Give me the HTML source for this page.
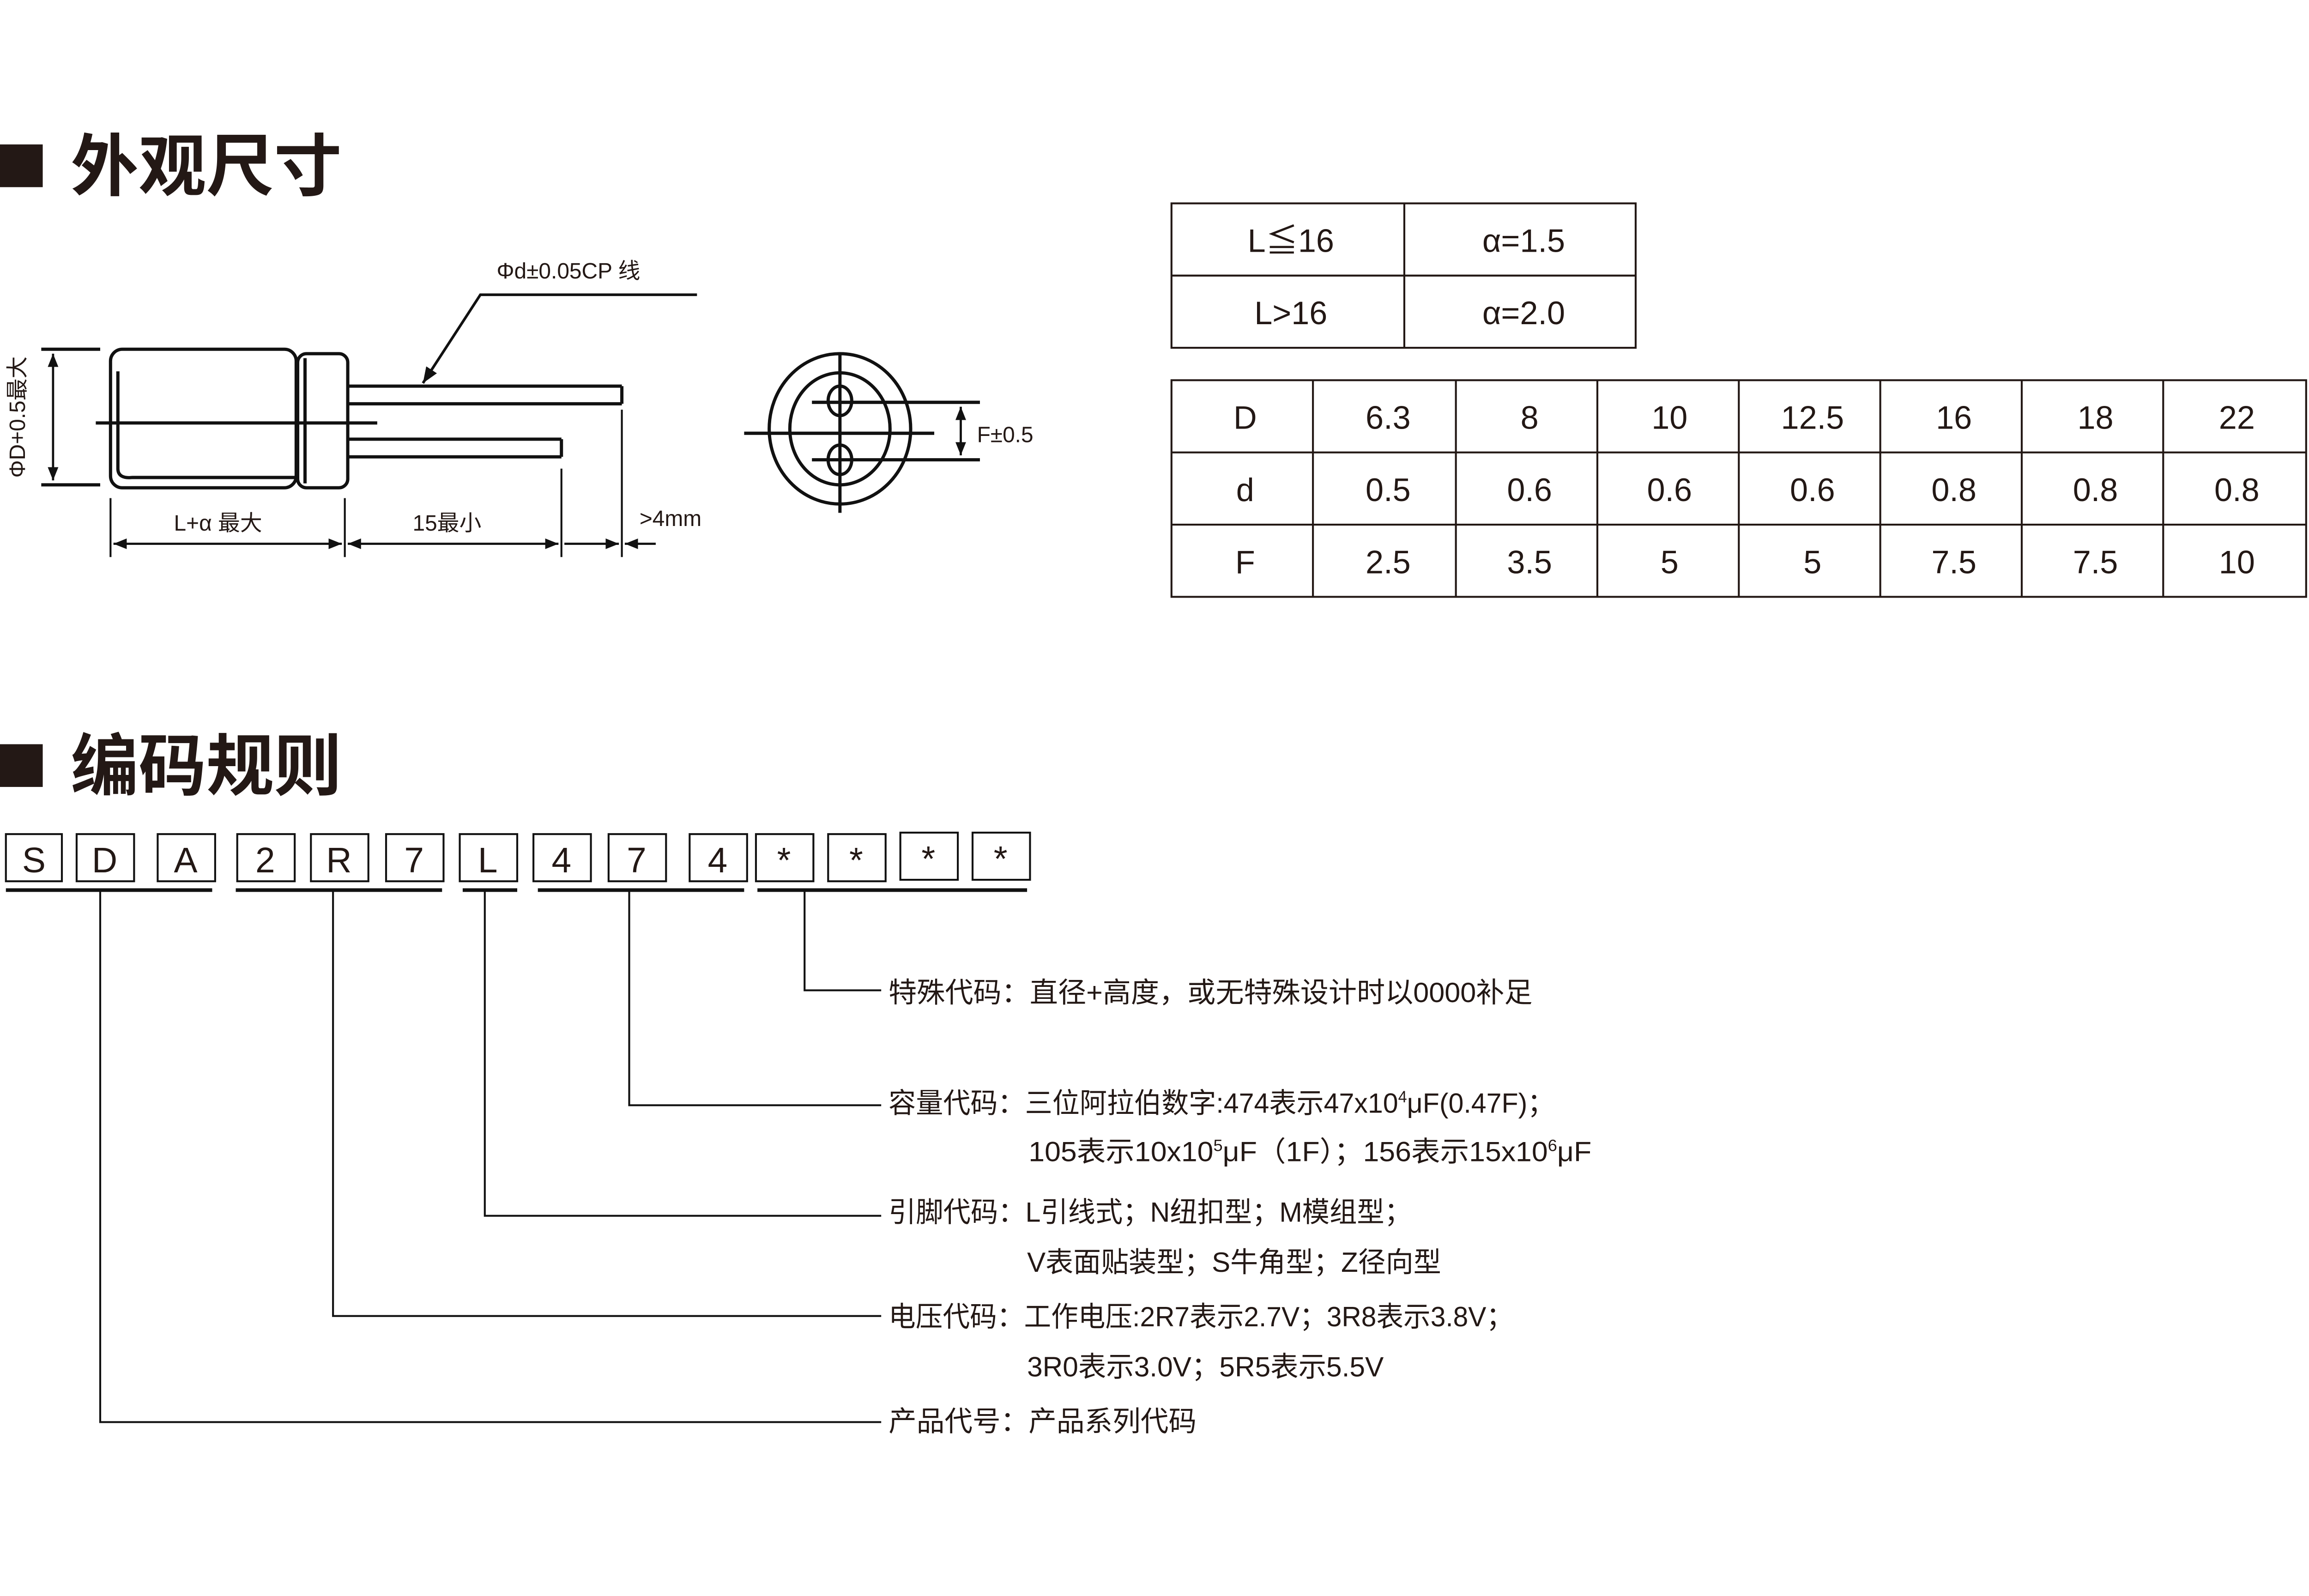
<!DOCTYPE html>
<html><head><meta charset="utf-8"><style>
html,body{margin:0;padding:0;background:#fff;}
svg{display:block;}
text{font-family:"Liberation Sans","Noto Sans CJK SC",sans-serif;fill:#231815;}
</style></head><body>
<svg width="5064" height="3456" viewBox="0 0 1587 1083" preserveAspectRatio="none" xmlns="http://www.w3.org/2000/svg">
<defs>
<marker id="ar" viewBox="0 0 10 10" refX="10" refY="5" markerWidth="6" markerHeight="6" orient="auto-start-reverse"><path d="M0,1 L10,5 L0,9 Z" fill="#111"/></marker>
</defs>
<!-- headers -->
<rect x="0" y="98" width="29" height="29" fill="#231815"/>
<text x="48" y="129" font-size="46" font-weight="bold">外观尺寸</text>
<rect x="0" y="505" width="29" height="29" fill="#231815"/>
<text x="48" y="536" font-size="46" font-weight="bold">编码规则</text>

<!-- capacitor side view -->
<g stroke="#111" stroke-width="2.2" fill="none">
<rect x="75" y="237" width="126" height="94" rx="8"/>
<path d="M80 252 V318 Q80 325 90 324 H200"/>
<rect x="202" y="240" width="34" height="91" rx="6"/>
<line x1="207" y1="243" x2="207" y2="328"/>
<line x1="236" y1="262" x2="422" y2="262"/>
<line x1="236" y1="274" x2="422" y2="274"/>
<line x1="422" y1="262" x2="422" y2="274"/>
<line x1="236" y1="298" x2="381" y2="298"/>
<line x1="236" y1="310" x2="381" y2="310"/>
<line x1="381" y1="298" x2="381" y2="310"/>
<line x1="65" y1="287" x2="256" y2="287"/>
<line x1="28" y1="237" x2="68" y2="237"/>
<line x1="28" y1="329" x2="68" y2="329"/>
<line x1="36" y1="240" x2="36" y2="326" marker-start="url(#ar)" marker-end="url(#ar)" stroke-width="1.5"/>
<line x1="75" y1="338" x2="75" y2="378" stroke-width="1.3"/>
<line x1="234" y1="338" x2="234" y2="378" stroke-width="1.3"/>
<line x1="381" y1="318" x2="381" y2="378" stroke-width="1.3"/>
<line x1="422" y1="278" x2="422" y2="378" stroke-width="1.3"/>
<line x1="77" y1="369" x2="232" y2="369" stroke-width="1.5" marker-start="url(#ar)" marker-end="url(#ar)"/>
<line x1="236" y1="369" x2="379" y2="369" stroke-width="1.5" marker-start="url(#ar)" marker-end="url(#ar)"/>
<line x1="383" y1="369" x2="420" y2="369" stroke-width="1.5" marker-end="url(#ar)"/>
<line x1="424" y1="369" x2="445" y2="369" stroke-width="1.5" marker-start="url(#ar)"/>
<polyline points="473,200 326,200 287,260" stroke-width="1.8" marker-end="url(#ar)"/>
</g>
<text x="337" y="189" font-size="15">Φd±0.05CP 线</text>
<text x="118" y="360" font-size="15">L+α 最大</text>
<text x="280" y="360" font-size="15">15最小</text>
<text x="434" y="357" font-size="15">&gt;4mm</text>
<text transform="translate(17,283) rotate(-90)" font-size="15" text-anchor="middle">ΦD+0.5最大</text>

<!-- end view -->
<g stroke="#111" stroke-width="2.2" fill="none">
<ellipse cx="570" cy="291" rx="48" ry="51"/>
<ellipse cx="570" cy="291" rx="34" ry="38"/>
<ellipse cx="570" cy="272" rx="8" ry="10"/>
<ellipse cx="570" cy="312" rx="8" ry="10"/>
<line x1="570" y1="240" x2="570" y2="348"/>
<line x1="505" y1="294" x2="634" y2="294"/>
<line x1="551" y1="273" x2="665" y2="273"/>
<line x1="551" y1="312" x2="665" y2="312"/>
<line x1="652" y1="276" x2="652" y2="309" stroke-width="1.5" marker-start="url(#ar)" marker-end="url(#ar)"/>
</g>
<text x="663" y="300" font-size="15">F±0.5</text>

<!-- tables -->
<g stroke="#231815" stroke-width="1.3" fill="none">
<rect x="795" y="138" width="315" height="98"/>
<line x1="795" y1="187" x2="1110" y2="187"/>
<line x1="953" y1="138" x2="953" y2="236"/>
<rect x="795" y="258" width="770" height="147"/>
<line x1="795" y1="307" x2="1565" y2="307"/>
<line x1="795" y1="356" x2="1565" y2="356"/>
<line x1="891" y1="258" x2="891" y2="405"/>
<line x1="988" y1="258" x2="988" y2="405"/>
<line x1="1084" y1="258" x2="1084" y2="405"/>
<line x1="1180" y1="258" x2="1180" y2="405"/>
<line x1="1276" y1="258" x2="1276" y2="405"/>
<line x1="1372" y1="258" x2="1372" y2="405"/>
<line x1="1468" y1="258" x2="1468" y2="405"/>
</g>
<g font-size="22" text-anchor="middle">
<text x="876" y="171">L≦16</text><text x="1034" y="171">α=1.5</text>
<text x="876" y="220">L&gt;16</text><text x="1034" y="220">α=2.0</text>
<text x="845" y="291">D</text><text x="942" y="291">6.3</text><text x="1038" y="291">8</text><text x="1133" y="291">10</text><text x="1230" y="291">12.5</text><text x="1326" y="291">16</text><text x="1422" y="291">18</text><text x="1518" y="291">22</text>
<text x="845" y="340">d</text><text x="942" y="340">0.5</text><text x="1038" y="340">0.6</text><text x="1133" y="340">0.6</text><text x="1230" y="340">0.6</text><text x="1326" y="340">0.8</text><text x="1422" y="340">0.8</text><text x="1518" y="340">0.8</text>
<text x="845" y="389">F</text><text x="942" y="389">2.5</text><text x="1038" y="389">3.5</text><text x="1133" y="389">5</text><text x="1230" y="389">5</text><text x="1326" y="389">7.5</text><text x="1422" y="389">7.5</text><text x="1518" y="389">10</text>
</g>

<!-- code boxes -->
<g stroke="#111" stroke-width="1.3" fill="none">
<rect x="4" y="566" width="38" height="32"/><rect x="52" y="566" width="39" height="32"/><rect x="107" y="566" width="39" height="32"/><rect x="161" y="566" width="39" height="32"/><rect x="211" y="566" width="39" height="32"/><rect x="262" y="566" width="39" height="32"/><rect x="312" y="566" width="39" height="32"/><rect x="362" y="566" width="39" height="32"/><rect x="413" y="566" width="39" height="32"/><rect x="468" y="566" width="39" height="32"/><rect x="513" y="566" width="39" height="32"/><rect x="562" y="566" width="39" height="32"/><rect x="611" y="565" width="39" height="32"/><rect x="660" y="565" width="39" height="32"/>
</g>
<g stroke="#111" stroke-width="2.5">
<line x1="4" y1="604" x2="144" y2="604"/><line x1="160" y1="604" x2="300" y2="604"/><line x1="314" y1="604" x2="351" y2="604"/><line x1="365" y1="604" x2="505" y2="604"/><line x1="514" y1="604" x2="697" y2="604"/>
</g>
<g font-size="24" text-anchor="middle">
<text x="23" y="592">S</text><text x="71" y="592">D</text><text x="126" y="592">A</text><text x="180" y="592">2</text><text x="230" y="592">R</text><text x="281" y="592">7</text><text x="331" y="592">L</text><text x="381" y="592">4</text><text x="432" y="592">7</text><text x="487" y="592">4</text><text x="532" y="592">*</text><text x="581" y="592">*</text><text x="630" y="591">*</text><text x="679" y="591">*</text>
</g>
<g stroke="#111" stroke-width="1.3" fill="none">
<polyline points="546,604 546,672 598,672"/>
<polyline points="427,604 427,750 598,750"/>
<polyline points="329,604 329,825 598,825"/>
<polyline points="226,604 226,893 598,893"/>
<polyline points="68,604 68,965 598,965"/>
</g>
<g font-size="19">
<text x="603" y="680" textLength="437" lengthAdjust="spacingAndGlyphs">特殊代码：直径+高度，或无特殊设计时以0000补足</text>
<text x="603" y="755" textLength="452" lengthAdjust="spacingAndGlyphs">容量代码：三位阿拉伯数字:474表示47x10<tspan font-size="11" dy="-7">4</tspan><tspan dy="7">μF(0.47F)；</tspan></text>
<text x="698" y="788" textLength="382" lengthAdjust="spacingAndGlyphs">105表示10x10<tspan font-size="11" dy="-7">5</tspan><tspan dy="7">μF（1F）；156表示15x10</tspan><tspan font-size="11" dy="-7">6</tspan><tspan dy="7">μF</tspan></text>
<text x="603" y="829" textLength="355" lengthAdjust="spacingAndGlyphs">引脚代码：L引线式；N纽扣型；M模组型；</text>
<text x="697" y="863" textLength="281" lengthAdjust="spacingAndGlyphs">V表面贴装型；S牛角型；Z径向型</text>
<text x="603" y="900" textLength="424" lengthAdjust="spacingAndGlyphs">电压代码：工作电压:2R7表示2.7V；3R8表示3.8V；</text>
<text x="697" y="934" textLength="242" lengthAdjust="spacingAndGlyphs">3R0表示3.0V；5R5表示5.5V</text>
<text x="603" y="971" textLength="209" lengthAdjust="spacingAndGlyphs">产品代号：产品系列代码</text>
</g>
</svg>
</body></html>
